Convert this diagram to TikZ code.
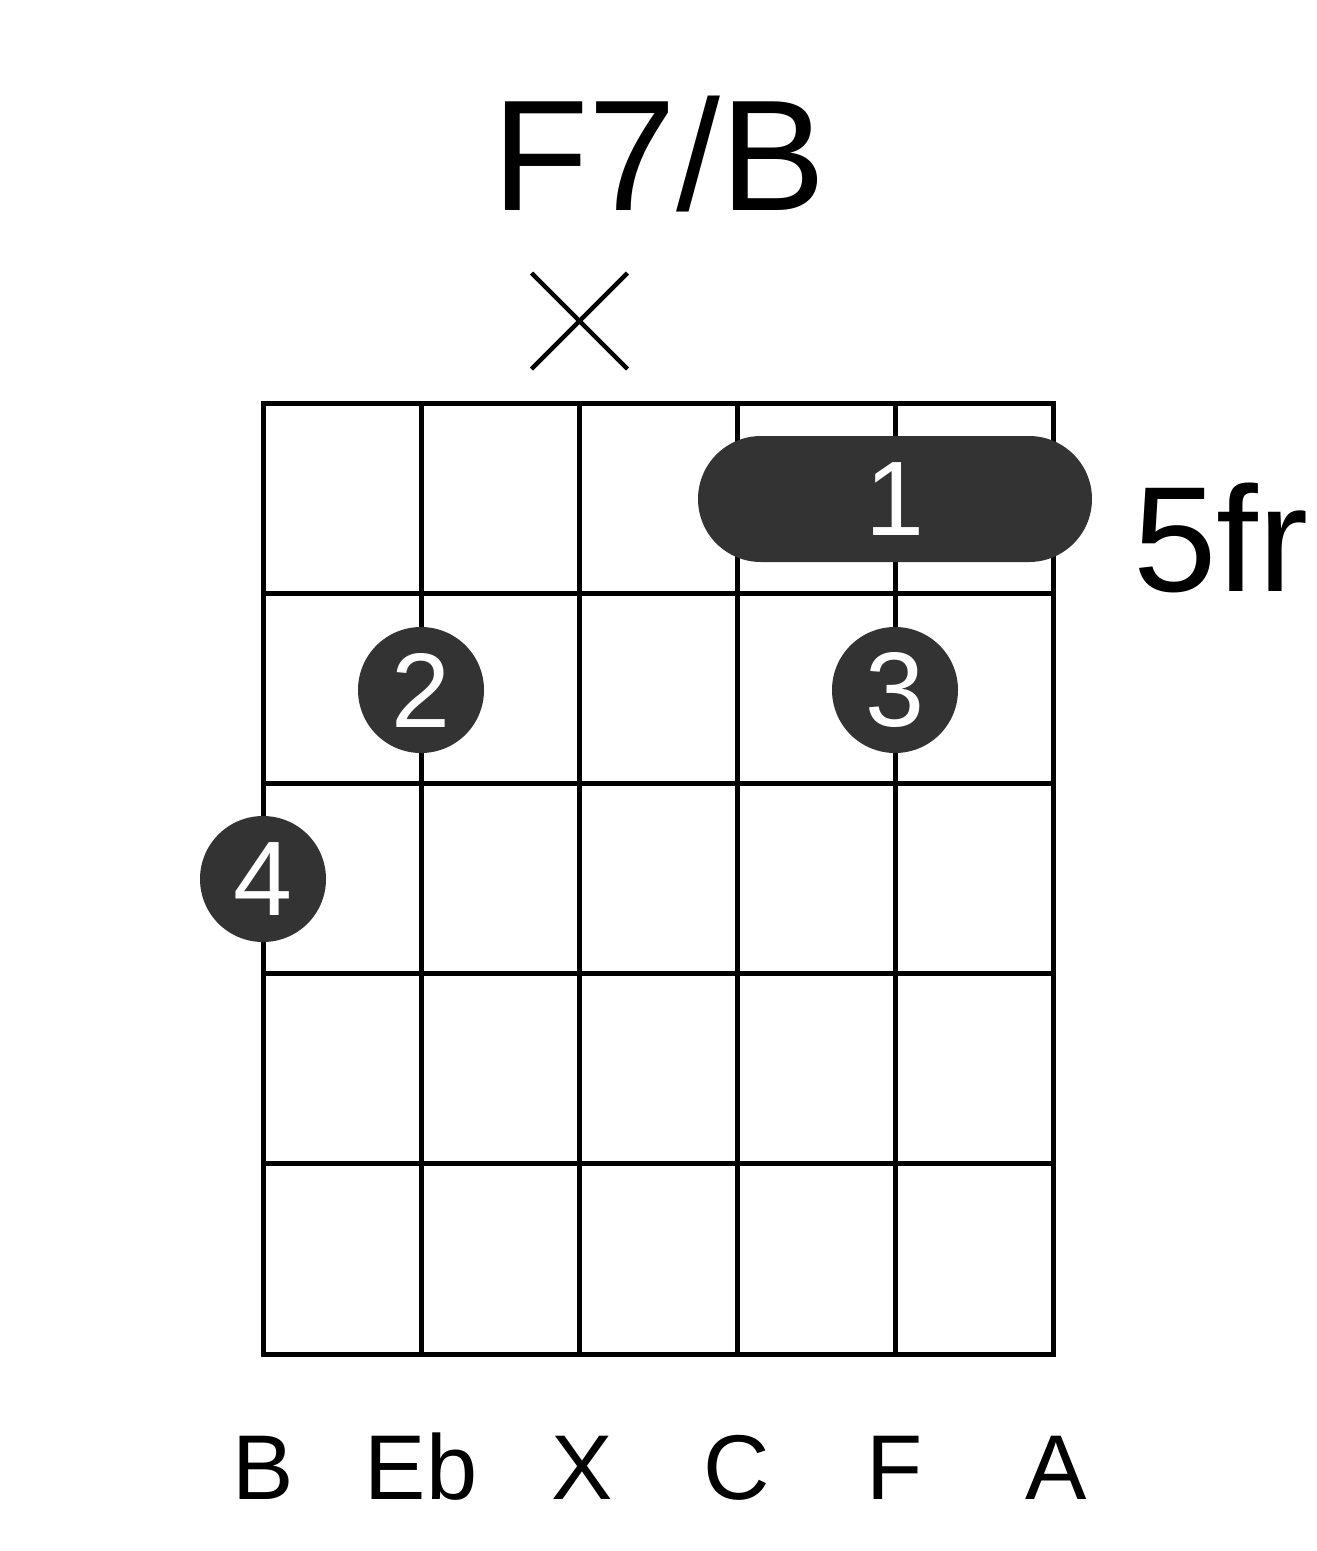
\documentclass[tikz,border=0pt]{standalone}
\usepackage{fontspec}
\setmainfont{Liberation Sans}
\usetikzlibrary{calc}
\definecolor{dotgray}{HTML}{333333}
\tikzset{
  gridline/.style={line width=5pt, black, line cap=rect},
  fingerdot/.style={circle, fill=dotgray, minimum size=126pt, inner sep=0pt, text=white, font=\fontsize{106}{106}\selectfont},
  barre/.style={rectangle, rounded corners=63pt, fill=dotgray, minimum width=394pt, minimum height=126pt, inner sep=0pt, text=white, font=\fontsize{106}{106}\selectfont},
  strlabel/.style={anchor=base, inner sep=0pt, font=\fontsize{92}{92}\selectfont},
  mutemark/.style={line width=4.5pt, black}
}
\begin{document}
\begin{tikzpicture}[x=1pt, y=-1pt]
\useasboundingbox[fill=white] (0,0) rectangle (1317,1551);
% title
\node[anchor=base, inner sep=0pt, font=\fontsize{158}{158}\selectfont] (title) at (659,210) {F7/B};
% mute mark
\coordinate (xc) at (579.5,321);
\draw[mutemark] ($(xc)+(-48,-48)$) -- ($(xc)+(48,48)$);
\draw[mutemark] ($(xc)+(-48,48)$) -- ($(xc)+(48,-48)$);
% grid
\foreach \i in {0,...,5} {
  \draw[gridline] ({263+158*\i},403) -- ({263+158*\i},1354);
  \draw[gridline] (263,{403+190.2*\i}) -- (1053,{403+190.2*\i});
}
% barre
\node[barre] (b1) at (895,499) {1};
% fret label
\node[anchor=base west, inner sep=0pt, font=\fontsize{150}{150}\selectfont] (fr) at (1133,591) {5fr};
% dots
\node[fingerdot] (d2) at (421,690) {2};
\node[fingerdot] (d3) at (895,690) {3};
\node[fingerdot] (d4) at (263,879) {4};
% string labels
\node[strlabel] (s1) at (263,1499) {B};
\node[strlabel] (s2) at (421,1499) {Eb};
\node[strlabel] (s3) at (582,1499) {X};
\node[strlabel] (s4) at (737,1499) {C};
\node[strlabel] (s5) at (895,1499) {F};
\node[strlabel] (s6) at (1056,1499) {A};
\end{tikzpicture}
\end{document}
